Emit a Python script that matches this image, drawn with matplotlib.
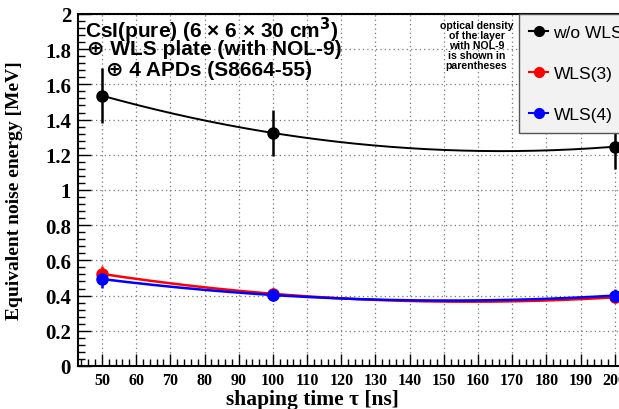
import numpy as np
import matplotlib.pyplot as plt
from matplotlib.ticker import MultipleLocator
from matplotlib.lines import Line2D

# shaping times and measured noise energies (MeV)
tau = np.array([50, 100, 200])
ene_nowls = np.array([1.536, 1.324, 1.246])
err_nowls = np.array([0.155, 0.133, 0.125])
ene_wls3 = np.array([0.523, 0.410, 0.390])
err_wls3 = np.array([0.045, 0.035, 0.035])
ene_wls4 = np.array([0.494, 0.403, 0.400])
err_wls4 = np.array([0.050, 0.035, 0.035])

labels = ['w/o WLS', 'WLS(3)', 'WLS(4)']
colors = ['black', 'red', 'blue']

serif = 'Liberation Serif'
sans = 'Liberation Sans'

fig = plt.figure(figsize=(6.19, 4.10), dpi=100)
ax = fig.add_axes([0.126, 0.105, 0.9225, 0.8585])

t_fine = np.linspace(50, 200, 200)
handles = []
for y, e, c, lab, lw in zip([ene_nowls, ene_wls3, ene_wls4],
                            [err_nowls, err_wls3, err_wls4],
                            colors, labels, [1.4, 1.8, 1.8]):
    # pol2 fit through the points
    p = np.polyfit(tau, y, 2)
    ax.plot(t_fine, np.polyval(p, t_fine), color=c, lw=lw, zorder=3)
    ax.errorbar(tau, y, yerr=e, fmt='o', color=c, ms=8, elinewidth=1.8,
                capsize=0, zorder=4)
    handles.append(Line2D([], [], color=c, lw=1.5, marker='o', ms=7, label=lab))

ax.set_xlim(43, 210)
ax.set_ylim(0, 2)
ax.xaxis.set_minor_locator(MultipleLocator(2))
ax.yaxis.set_minor_locator(MultipleLocator(0.04))
ax.tick_params(which='both', direction='in', top=False, right=False)
ax.tick_params(which='major', length=9, width=1)
ax.tick_params(which='minor', length=5, width=1)
ax.tick_params(axis='y', labelsize=15, pad=5)
ax.tick_params(axis='x', labelsize=11.5, pad=4)
ax.set_xticks(np.arange(50, 201, 10))
ax.set_yticks(np.arange(0, 2.01, 0.2))
ax.set_yticklabels(['0', '0.2', '0.4', '0.6', '0.8', '1', '1.2', '1.4', '1.6', '1.8', '2'])
for t in ax.get_xticklabels() + ax.get_yticklabels():
    t.set_fontfamily(serif)
    t.set_fontweight('bold')
ax.grid(True, which='major', ls=(0, (1, 2.5)), color='#777777', lw=0.9)
for s in ax.spines.values():
    s.set_linewidth(1.5)

ax.set_xlabel('shaping time \u03c4 [ns]', fontfamily=serif,
              fontweight='bold', fontsize=15.5, va='center')
ax.set_ylabel('Equivalent noise energy [MeV]', fontfamily=serif,
              fontweight='bold', fontsize=14)
ax.xaxis.set_label_coords(0.41, -0.095)
ax.yaxis.set_label_coords(-0.097, 0.5)

fig.text(0.137, 0.927, 'CsI(pure) (6 \u00d7 6 \u00d7 30 cm$^{\\mathbf{3}}$)',
         fontfamily=[sans, 'DejaVu Sans'], fontweight='bold', fontsize=15, va='center')
fig.text(0.140, 0.879, '\u2295 WLS plate (with NOL-9)', fontfamily=[sans, 'DejaVu Sans'],
         fontweight='bold', fontsize=15, va='center')
fig.text(0.172, 0.829, '\u2295 4 APDs (S8664-55)', fontfamily=[sans, 'DejaVu Sans'],
         fontweight='bold', fontsize=15, va='center')
fig.text(0.770, 0.888, 'optical density\nof the layer\nwith NOL-9\nis shown in\nparentheses',
         fontfamily=sans, fontweight='bold', fontsize=7.6, ha='center', va='center',
         linespacing=1.0)

leg = fig.legend(handles=handles, loc='upper left', bbox_to_anchor=(0.838, 0.963),
                 prop={'family': sans, 'size': 12.5}, handlelength=1.1,
                 handletextpad=0.3, labelspacing=1.5, borderpad=0.6,
                 borderaxespad=0, fancybox=False, framealpha=1)
leg.get_frame().set_facecolor('#f2f2f2')
leg.get_frame().set_edgecolor('#555555')
leg.get_frame().set_linewidth(1.0)

fig.savefig('out.png', dpi=100)
